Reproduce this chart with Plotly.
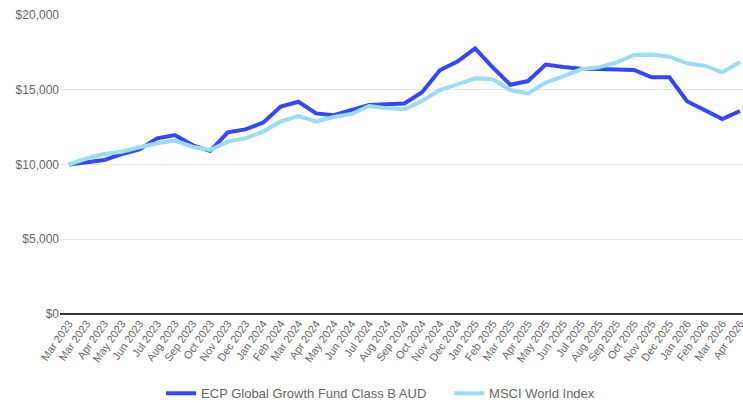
import plotly.graph_objects as go

tick_labels = ["Mar 2023", "Mar 2023", "Apr 2023", "May 2023", "Jun 2023", "Jul 2023", "Aug 2023",
               "Sep 2023", "Oct 2023", "Nov 2023", "Dec 2023", "Jan 2024", "Feb 2024", "Mar 2024",
               "Apr 2024", "May 2024", "Jun 2024", "Jul 2024", "Aug 2024", "Sep 2024", "Oct 2024",
               "Nov 2024", "Dec 2024", "Jan 2025", "Feb 2025", "Mar 2025", "Apr 2025", "May 2025",
               "Jun 2025", "Jul 2025", "Aug 2025", "Sep 2025", "Oct 2025", "Nov 2025", "Dec 2025",
               "Jan 2026", "Feb 2026", "Mar 2026", "Apr 2026"]

fund_values = [10000, 10120, 10300, 10700, 11010, 11750, 11970, 11300, 10900, 12150,
               12350, 12800, 13870, 14200, 13420, 13300, 13650, 13980, 14030, 14080,
               14830, 16300, 16880, 17770, 16500, 15330, 15580, 16680, 16520, 16400,
               16380, 16320, 16320, 15830, 15830, 14230, 13620, 13040, 13580]

msci_values = [10000, 10400, 10700, 10850, 11150, 11420, 11600, 11190, 10970, 11530,
               11750, 12200, 12880, 13240, 12880, 13180, 13380, 13910, 13760, 13700,
               14250, 14980, 15360, 15760, 15700, 14980, 14760, 15480, 15900, 16370,
               16500, 16810, 17320, 17340, 17210, 16770, 16610, 16170, 16840]

y_ticks = [0, 5000, 10000, 15000, 20000]
y_tick_text = ["$0", "$5,000", "$10,000", "$15,000", "$20,000"]

x_idx = list(range(len(tick_labels)))

fig = go.Figure()
fig.add_trace(go.Scatter(x=x_idx, y=fund_values, mode="lines",
                         name="ECP Global Growth Fund Class B AUD",
                         line=dict(color="#3346FF", width=4)))
fig.add_trace(go.Scatter(x=x_idx, y=msci_values, mode="lines",
                         name="MSCI World Index",
                         line=dict(color="#9ADBF8", width=4)))

fig.update_layout(
    width=743, height=405,
    margin=dict(l=60, r=0, t=15, b=91, autoexpand=False),
    plot_bgcolor="white", paper_bgcolor="white",
    font=dict(family="Liberation Sans, Arial, sans-serif", color="#666666", size=12),
    showlegend=True,
    legend=dict(orientation="h", x=0.148, xanchor="left", y=-0.265, yanchor="middle",
                font=dict(size=13, color="#666666"), itemwidth=30,
                entrywidth=243, entrywidthmode="pixels"),
    xaxis=dict(tickmode="array", tickvals=x_idx, ticktext=tick_labels,
               tickangle=-55, range=[-0.5, 38.17], showgrid=False, automargin=False,
               ticklabeloverflow="allow",
               tickfont=dict(size=11, color="#666666"), ticks="", zeroline=False),
    yaxis=dict(range=[0, 20000], tickmode="array", tickvals=y_ticks, ticktext=y_tick_text,
               showgrid=True, gridcolor="#e6e6e6", automargin=False,
               zeroline=True, zerolinecolor="#333333", zerolinewidth=2,
               tickfont=dict(size=12, color="#666666"), ticks=""),
)

fig.write_html("out.html", config={"displayModeBar": False},
               post_script="document.body.style.margin='0';document.body.style.overflow='hidden';")
